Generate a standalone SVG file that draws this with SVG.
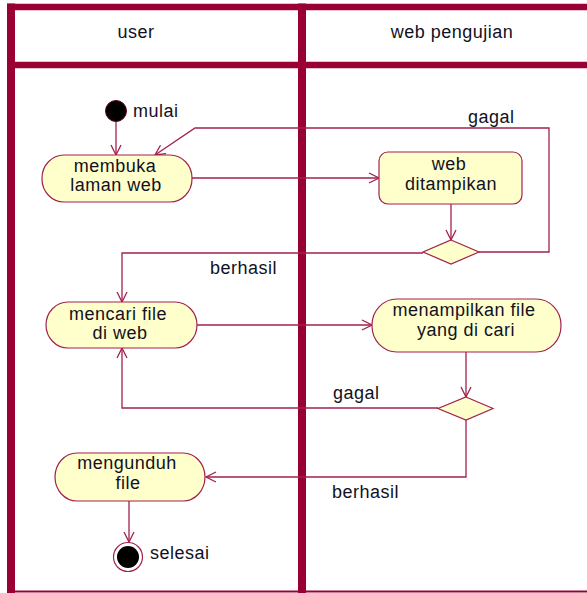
<svg xmlns="http://www.w3.org/2000/svg" width="587" height="593" viewBox="0 0 587 593">
  <style>
    .lane { stroke: #990033; fill: none; }
    .act { fill: #ffffcc; stroke: #a3204f; stroke-width: 1.2; }
    .dec { fill: #ffffcc; stroke: #a3204f; stroke-width: 1.2; }
    .flow { fill: none; stroke: #a3204f; stroke-width: 1.3; }
    text { font-family: "Liberation Sans", Arial, sans-serif; font-size: 18px; fill: #111122; letter-spacing: 0.5px; }
    .c { text-anchor: middle; }
  </style>
  <defs>
    <marker id="open" viewBox="0 0 12 12" markerWidth="12" markerHeight="12" refX="11" refY="6" orient="auto" markerUnits="userSpaceOnUse">
      <path d="M1,1 L11,6 L1,11" fill="none" stroke="#a3204f" stroke-width="1.3"/>
    </marker>
  </defs>
  <rect width="587" height="593" fill="#ffffff"/>

  <!-- swimlane frame -->
  <g id="lanes">
    <line class="lane" x1="11" y1="3.5" x2="11" y2="593" stroke-width="8"/>
    <line class="lane" x1="7" y1="7" x2="587" y2="7" stroke-width="6.5"/>
    <line class="lane" x1="7" y1="65" x2="587" y2="65" stroke-width="6.5"/>
    <line class="lane" x1="302" y1="3.5" x2="302" y2="593" stroke-width="8"/>
    <line class="lane" x1="7" y1="591.5" x2="587" y2="591.5" stroke-width="2"/>
    <text class="c" x="136" y="38">user</text>
    <text class="c" x="452" y="38">web pengujian</text>
  </g>

  <!-- connectors -->
  <g id="connectors">
    <line class="flow" x1="116" y1="121" x2="116" y2="155" marker-end="url(#open)"/>
    <line class="flow" x1="192" y1="178" x2="379" y2="178" marker-end="url(#open)"/>
    <line class="flow" x1="451" y1="204" x2="451" y2="240" marker-end="url(#open)"/>
    <polyline class="flow" points="479,252 549,252 549,128 195,128 155,155" marker-end="url(#open)"/>
    <polyline class="flow" points="423,253 122,253 122,302" marker-end="url(#open)"/>
    <line class="flow" x1="197" y1="325" x2="372" y2="325" marker-end="url(#open)"/>
    <line class="flow" x1="466" y1="352" x2="466" y2="397" marker-end="url(#open)"/>
    <polyline class="flow" points="438,408 122,408 122,348" marker-end="url(#open)"/>
    <polyline class="flow" points="466,420 466,477 206,477" marker-end="url(#open)"/>
    <line class="flow" x1="129" y1="501" x2="129" y2="542" marker-end="url(#open)"/>
    <text x="468" y="123">gagal</text>
    <text x="210" y="274">berhasil</text>
    <text x="333" y="399">gagal</text>
    <text x="332" y="498">berhasil</text>
  </g>

  <g id="mulai">
    <circle cx="116" cy="111" r="10.5" fill="#000" stroke="#660022" stroke-width="1"/>
    <text x="133" y="117">mulai</text>
  </g>

  <g id="membuka-laman-web">
    <rect class="act" x="42" y="155" width="150" height="47" rx="22" ry="23"/>
    <text class="c" x="115" y="172">membuka</text>
    <text class="c" x="116" y="191">laman web</text>
  </g>

  <g id="web-ditampikan">
    <rect class="act" x="379" y="152" width="143" height="52" rx="9" ry="9"/>
    <text class="c" x="449" y="170">web</text>
    <text class="c" x="451" y="190">ditampikan</text>
  </g>

  <g id="keputusan-1">
    <polygon class="dec" points="451,240 479,252 451,264 423,252"/>
  </g>

  <g id="mencari-file">
    <rect class="act" x="46" y="302" width="151" height="46" rx="22" ry="23"/>
    <text class="c" x="118" y="320">mencari file</text>
    <text class="c" x="120" y="339">di web</text>
  </g>

  <g id="menampilkan-file">
    <rect class="act" x="372" y="299" width="189" height="53" rx="25" ry="26"/>
    <text class="c" x="464" y="316">menampilkan file</text>
    <text class="c" x="466" y="336">yang di cari</text>
  </g>

  <g id="keputusan-2">
    <polygon class="dec" points="466,397 493,408.5 466,420 438,408.5"/>
  </g>

  <g id="mengunduh-file">
    <rect class="act" x="55" y="453" width="150" height="48" rx="22" ry="24"/>
    <text class="c" x="127" y="469">mengunduh</text>
    <text class="c" x="128" y="489">file</text>
  </g>

  <g id="selesai">
    <circle cx="128" cy="557" r="14.5" fill="#fff" stroke="#a3204f" stroke-width="1.2"/>
    <circle cx="128" cy="557" r="11" fill="#000"/>
    <text x="150" y="559">selesai</text>
  </g>
</svg>
